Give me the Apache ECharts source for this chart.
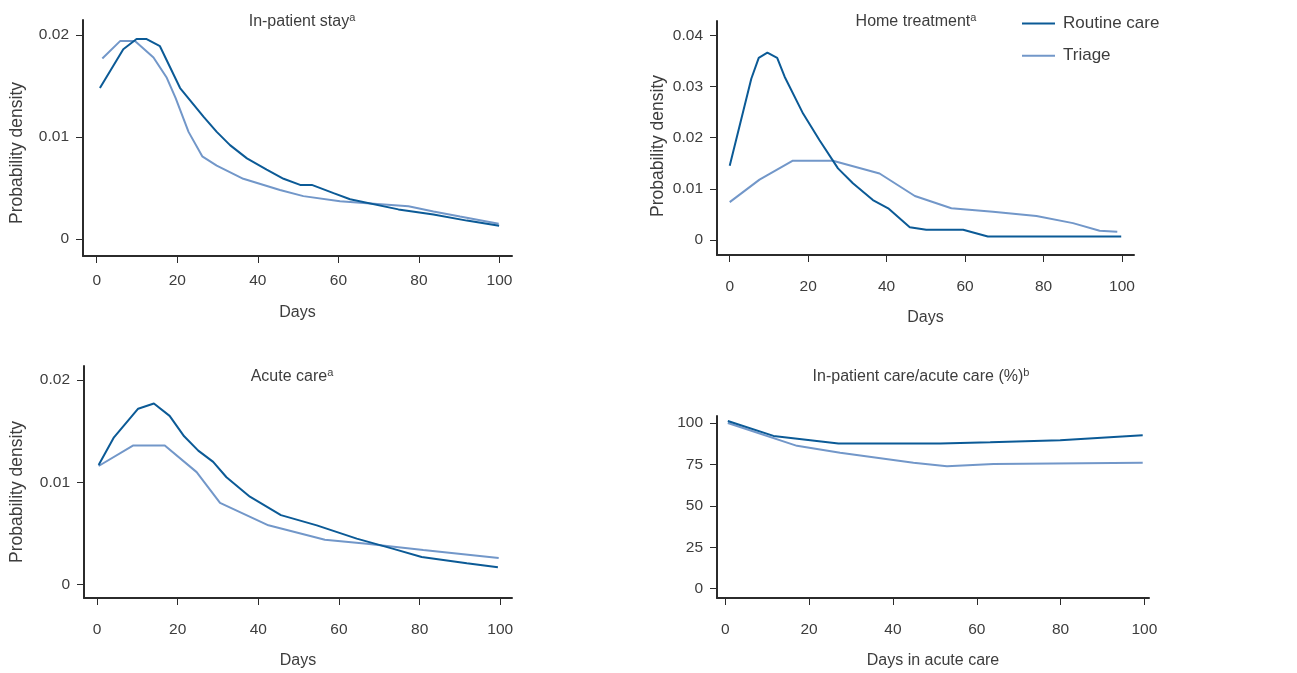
<!DOCTYPE html>
<html>
<head>
<meta charset="utf-8">
<script src="https://cdn.jsdelivr.net/npm/echarts@6/dist/echarts.min.js"></script>
<style>html,body{margin:0;padding:0;background:#fff}#c{width:1297px;height:673px}</style>
</head>
<body>
<div id="c"></div>
<script>
// ---- data (day, value) ----
const seriesNames = ['Routine care', 'Triage'];
const panelTitles = ['In-patient stay', 'Home treatment', 'Acute care', 'In-patient care/acute care (%)'];
const panelNotes = ['a', 'a', 'a', 'b'];
const xTicks = [0, 20, 40, 60, 80, 100];
const densityTicks2 = [0, 0.01, 0.02];
const densityTicks4 = [0, 0.01, 0.02, 0.03, 0.04];
const percentTicks = [0, 25, 50, 75, 100];

const inpatientRoutine = [[0.8,0.0148],[6.6,0.0186],[9.9,0.0196],[12.4,0.0196],[15.7,0.0189],[20.7,0.0148],[26.5,0.0120],[29.8,0.0105],[33.1,0.0092],[37.3,0.0079],[42.2,0.0068],[46.4,0.0059],[50.5,0.0053],[53.4,0.0053],[58.8,0.0045],[62.9,0.0039],[74.9,0.0029],[75.2,0.0028],[83.6,0.0024],[91.9,0.0018],[99.9,0.0013]];
const inpatientTriage = [[1.4,0.0177],[5.8,0.0194],[9.5,0.0194],[14.1,0.0178],[17.4,0.0158],[19.6,0.0138],[22.8,0.0105],[26.2,0.0081],[29.8,0.0072],[36.4,0.0059],[45.5,0.0048],[51.3,0.0042],[60.4,0.0037],[67.1,0.0035],[77.4,0.0032],[83.6,0.0027],[90.2,0.0022],[99.8,0.0015]];

const homeRoutine = [[0,0.0145],[5.5,0.0315],[7.4,0.0356],[9.6,0.0366],[12.1,0.0356],[14.0,0.0319],[18.7,0.0247],[22.9,0.0195],[27.6,0.0140],[31.4,0.0111],[36.5,0.0078],[40.4,0.0062],[45.9,0.0025],[50.1,0.0020],[59.5,0.0020],[65.8,0.0007],[99.8,0.0007]];
const homeTriage = [[0,0.0074],[7.6,0.0118],[16.1,0.0155],[26.3,0.0155],[38.2,0.0130],[47.2,0.0086],[56.5,0.0062],[67.1,0.0055],[78.2,0.0047],[87.5,0.0033],[94.3,0.0018],[98.8,0.0016]];

const acuteRoutine = [[0.4,0.0117],[4.2,0.0144],[10.2,0.0172],[14.1,0.0177],[18.0,0.0165],[21.6,0.0145],[25.1,0.0131],[28.8,0.0120],[32.1,0.0105],[37.9,0.0086],[45.6,0.0068],[54.5,0.0058],[64.4,0.0045],[73.5,0.0035],[80.5,0.0027],[91.7,0.0021],[99.4,0.0017]];
const acuteTriage = [[0.4,0.0116],[8.9,0.0136],[16.8,0.0136],[24.7,0.0110],[30.5,0.0080],[42.5,0.0058],[56.5,0.0044],[66.9,0.0040],[80.9,0.0034],[99.6,0.0026]];

const ratioRoutine = [[0.6,101.2],[11.5,92.2],[27.0,87.6],[51.3,87.6],[63.2,88.4],[63.3,87.9],[79.9,89.6],[99.6,92.6]];
const ratioTriage = [[0.6,100],[17.1,86.2],[27.4,82.0],[44.9,76.0],[52.9,73.9],[64.0,75.2],[99.6,76.0]];

// ---- styling / layout ----
const FONT = "'Liberation Sans',Arial,sans-serif";
const TXT = '#3d3d3d';
const AX = '#2b2b2b';
const C_ROUTINE = '#0b5a96';
const C_TRIAGE = '#7297c9';

const grids = [
  {left: 83, top: 20, width: 429, height: 236},
  {left: 717, top: 21, width: 417, height: 234},
  {left: 84, top: 366, width: 428, height: 232},
  {left: 717, top: 416, width: 432, height: 182}
];
const xRanges = [[-3.4,103.1],[-3.24,103.06],[-3.23,102.9],[-1.98,101.1]];
const yRanges = [[-0.00167,0.02147],[-0.00293,0.04279],[-0.0013,0.02137],[-5.6,104.2]];
const yTickSets = [densityTicks2, densityTicks4, densityTicks2, percentTicks];
const xNames = ['Days','Days','Days','Days in acute care'];
const xLabelMargins = [17, 24, 24, 24];
const xNameGaps = [49, 55, 55, 55];
const titlePos = [[302,12],[916,12],[292,367],[921,367]];

const data = [
  [inpatientRoutine, inpatientTriage],
  [homeRoutine, homeTriage],
  [acuteRoutine, acuteTriage],
  [ratioRoutine, ratioTriage]
];

const xAxis = grids.map((g, i) => ({
  type: 'value', gridIndex: i, min: xRanges[i][0], max: xRanges[i][1],
  name: xNames[i], nameLocation: 'middle', nameGap: xNameGaps[i],
  nameTextStyle: {fontFamily: FONT, fontSize: 16, color: TXT},
  axisLine: {show: true, onZero: false, lineStyle: {color: AX, width: 2}},
  axisTick: {show: true, length: 7, customValues: xTicks, lineStyle: {color: AX, width: 1}},
  axisLabel: {customValues: xTicks, margin: xLabelMargins[i], fontFamily: FONT, fontSize: 15.5, color: TXT},
  splitLine: {show: false}
}));
const yAxis = grids.map((g, i) => ({
  type: 'value', gridIndex: i, min: yRanges[i][0], max: yRanges[i][1],
  axisLine: {show: true, onZero: false, lineStyle: {color: AX, width: 2}},
  axisTick: {show: true, length: 7, customValues: yTickSets[i], lineStyle: {color: AX, width: 1}},
  axisLabel: {customValues: yTickSets[i], margin: 14, fontFamily: FONT, fontSize: 15.5, color: TXT,
    formatter: v => String(v)},
  splitLine: {show: false}
}));

const series = [];
data.forEach((pair, i) => {
  // triage drawn first so routine care sits on top
  [1, 0].forEach(k => {
    series.push({
      type: 'line', name: seriesNames[k], xAxisIndex: i, yAxisIndex: i,
      data: pair[k], symbol: 'none', smooth: false, z: k === 0 ? 3 : 2,
      lineStyle: {color: k === 0 ? C_ROUTINE : C_TRIAGE, width: 2},
      itemStyle: {color: k === 0 ? C_ROUTINE : C_TRIAGE}
    });
  });
});

const title = panelTitles.map((t, i) => ({
  text: '{t|' + t + '}{s|' + panelNotes[i] + '}',
  left: titlePos[i][0], top: titlePos[i][1], textAlign: 'center', padding: 0,
  textStyle: {
    fontWeight: 'normal',
    rich: {
      t: {fontFamily: FONT, fontSize: 16, fontWeight: 'normal', color: TXT, lineHeight: 20},
      s: {fontFamily: FONT, fontSize: 11, fontWeight: 'normal', color: TXT, lineHeight: 12, verticalAlign: 'top'}
    }
  }
}));

const yNamePos = [[17,153],[658,146],[17,492]];
const graphic = yNamePos.map(p => ({
  type: 'text', x: p[0], y: p[1], rotation: Math.PI / 2,
  style: {text: 'Probability density', font: "17.5px 'Liberation Sans', Arial, sans-serif",
    fill: TXT, align: 'center', verticalAlign: 'middle'}
}));

const chart = echarts.init(document.getElementById('c'), null, {renderer: 'canvas'});
chart.setOption({
  animation: false,
  backgroundColor: '#fff',
  title: title,
  grid: grids.map(g => Object.assign({containLabel: false, outerBoundsMode: 'none'}, g)),
  xAxis: xAxis,
  yAxis: yAxis,
  legend: {
    data: seriesNames, orient: 'vertical', left: 1017, top: 8.5,
    itemWidth: 33, itemHeight: 2, itemGap: 12.3, icon: 'rect',
    textStyle: {fontFamily: FONT, fontSize: 17, color: TXT, lineHeight: 20, padding: [0, 0, 0, 3]}
  },
  series: series,
  graphic: graphic
});
</script>
</body>
</html>
